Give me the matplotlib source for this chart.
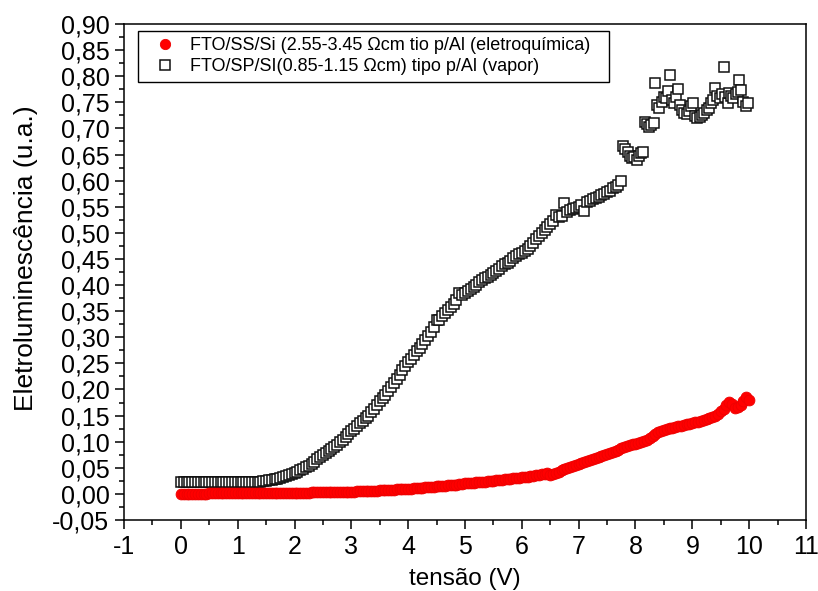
import numpy as np
import matplotlib
matplotlib.use("Agg")
import matplotlib.pyplot as plt
from matplotlib.patches import Rectangle
from matplotlib.ticker import MultipleLocator, FuncFormatter

plt.rcParams['font.family'] = ['Liberation Sans', 'DejaVu Sans']

# ---- data -------------------------------------------------------------
label_red = "FTO/SS/Si (2.55-3.45 \u03a9cm tio p/Al (eletroqu\u00edmica)"
label_black = "FTO/SP/SI(0.85-1.15 \u03a9cm) tipo p/Al (vapor)"

# electrochemical sample: voltage sweep 0 - 10 V in 0.05 V steps
red_v = np.round(np.arange(0, 10.001, 0.05), 2)
red_el = [
    0.000, 0.000, 0.000, 0.000, 0.000, 0.000, 0.000, 0.000, 0.000, 0.000,
    0.001, 0.001, 0.001, 0.001, 0.001, 0.001, 0.001, 0.001, 0.001, 0.001,
    0.001, 0.001, 0.001, 0.001, 0.001, 0.001, 0.001, 0.001, 0.001, 0.001,
    0.002, 0.002, 0.002, 0.002, 0.002, 0.002, 0.002, 0.002, 0.002, 0.002,
    0.002, 0.002, 0.002, 0.002, 0.002, 0.002, 0.003, 0.003, 0.003, 0.003,
    0.003, 0.003, 0.003, 0.003, 0.004, 0.004, 0.004, 0.004, 0.004, 0.004,
    0.004, 0.004, 0.005, 0.005, 0.005, 0.005, 0.006, 0.006, 0.006, 0.006,
    0.007, 0.007, 0.007, 0.008, 0.008, 0.008, 0.009, 0.009, 0.009, 0.010,
    0.010, 0.010, 0.011, 0.011, 0.012, 0.012, 0.013, 0.013, 0.014, 0.014,
    0.015, 0.015, 0.016, 0.016, 0.017, 0.017, 0.018, 0.018, 0.019, 0.019,
    0.020, 0.020, 0.021, 0.021, 0.022, 0.022, 0.023, 0.023, 0.024, 0.024,
    0.025, 0.026, 0.026, 0.027, 0.028, 0.028, 0.029, 0.030, 0.030, 0.031,
    0.032, 0.033, 0.033, 0.034, 0.035, 0.036, 0.037, 0.038, 0.039, 0.041,
    0.037, 0.038, 0.040, 0.042, 0.045, 0.047, 0.050, 0.052, 0.054, 0.055,
    0.057, 0.059, 0.061, 0.063, 0.065, 0.067, 0.069, 0.071, 0.073, 0.075,
    0.077, 0.079, 0.081, 0.083, 0.085, 0.087, 0.089, 0.091, 0.093, 0.095,
    0.096, 0.098, 0.100, 0.102, 0.104, 0.107, 0.111, 0.115, 0.118, 0.121,
    0.123, 0.124, 0.126, 0.127, 0.128, 0.130, 0.131, 0.132, 0.134, 0.134,
    0.135, 0.137, 0.138, 0.140, 0.142, 0.143, 0.145, 0.147, 0.150, 0.154,
    0.158, 0.162, 0.170, 0.176, 0.172, 0.164, 0.166, 0.170, 0.178, 0.186,
    0.180,
]

# vapour sample: smooth part of the sweep, 0 - 7.75 V in 0.05 V steps
black_v = np.round(np.arange(0, 7.751, 0.05), 2)
black_el = [
    0.022, 0.022, 0.022, 0.022, 0.022, 0.022, 0.022, 0.022, 0.022, 0.022,
    0.022, 0.022, 0.022, 0.022, 0.022, 0.022, 0.022, 0.022, 0.022, 0.022,
    0.022, 0.022, 0.022, 0.022, 0.022, 0.022, 0.022, 0.023, 0.023, 0.024,
    0.025, 0.026, 0.027, 0.028, 0.029, 0.030, 0.032, 0.034, 0.036, 0.038,
    0.040, 0.042, 0.045, 0.048, 0.051, 0.054, 0.058, 0.062, 0.066, 0.070,
    0.074, 0.078, 0.082, 0.086, 0.090, 0.094, 0.099, 0.104, 0.109, 0.114,
    0.120, 0.125, 0.130, 0.135, 0.140, 0.145, 0.150, 0.156, 0.163, 0.170,
    0.177, 0.183, 0.190, 0.197, 0.204, 0.212, 0.220, 0.228, 0.237, 0.245,
    0.252, 0.259, 0.266, 0.273, 0.280, 0.287, 0.295, 0.303, 0.311, 0.319,
    0.334, 0.334, 0.341, 0.347, 0.352, 0.358, 0.364, 0.371, 0.384, 0.381,
    0.385, 0.389, 0.393, 0.397, 0.401, 0.405, 0.409, 0.413, 0.416, 0.420,
    0.423, 0.427, 0.431, 0.436, 0.440, 0.443, 0.447, 0.451, 0.455, 0.459,
    0.462, 0.466, 0.470, 0.475, 0.481, 0.488, 0.494, 0.500, 0.506, 0.512,
    0.517, 0.522, 0.534, 0.530, 0.533, 0.557, 0.540, 0.543, 0.545, 0.548,
    0.550, 0.553, 0.541, 0.559, 0.561, 0.564, 0.566, 0.569, 0.572, 0.575,
    0.578, 0.581, 0.585, 0.588, 0.592, 0.600,
]

# vapour sample: noisy high-voltage part of the sweep
black_v_hi = [
    7.78, 7.82, 7.86, 7.90, 7.94, 7.98, 8.02, 8.06, 8.10, 8.13,
    8.17, 8.20, 8.24, 8.28, 8.32, 8.35, 8.38, 8.42, 8.46, 8.50,
    8.54, 8.58, 8.61, 8.65, 8.68, 8.72, 8.75, 8.78, 8.82, 8.86,
    8.90, 8.94, 8.98, 9.01, 9.05, 9.09, 9.13, 9.17, 9.21, 9.25,
    9.29, 9.33, 9.37, 9.40, 9.44, 9.48, 9.52, 9.55, 9.58, 9.62,
    9.65, 9.68, 9.72, 9.76, 9.80, 9.83, 9.86, 9.90, 9.94, 9.98,
]
black_el_hi = [
    0.667, 0.660, 0.655, 0.648, 0.643, 0.645, 0.640, 0.648, 0.652, 0.655,
    0.713, 0.708, 0.702, 0.706, 0.710, 0.787, 0.745, 0.740, 0.750, 0.760,
    0.758, 0.772, 0.803, 0.755, 0.748, 0.760, 0.776, 0.745, 0.735, 0.730,
    0.728, 0.733, 0.742, 0.748, 0.724, 0.720, 0.722, 0.726, 0.730, 0.735,
    0.740, 0.748, 0.755, 0.778, 0.762, 0.758, 0.765, 0.818, 0.760, 0.748,
    0.768, 0.762, 0.758, 0.765, 0.770, 0.793, 0.774, 0.750, 0.742, 0.748,
]

x_ticks = list(range(-1, 12))
y_ticks = [round(-0.05 + 0.05 * i, 2) for i in range(20)]

# ---- figure -----------------------------------------------------------
fig = plt.figure(figsize=(8.18, 5.91), dpi=100)
ax = fig.add_axes([0.1516, 0.1201, 0.8337, 0.8393])

ax.plot(np.concatenate([black_v, black_v_hi]),
        np.concatenate([black_el, black_el_hi]),
        linestyle='none', marker='s', markersize=7.2,
        markerfacecolor='white', markeredgecolor='#111111',
        markeredgewidth=1.1, label=label_black, zorder=3)
ax.plot(red_v, red_el, linestyle='none', marker='o', markersize=7.8,
        markerfacecolor='#ff0000', markeredgecolor='#ee0000',
        markeredgewidth=0.6, label=label_red, zorder=4)

ax.set_xlim(-1, 11)
ax.set_ylim(-0.05, 0.90)
ax.set_xticks(x_ticks)
ax.set_yticks(y_ticks)
ax.xaxis.set_minor_locator(MultipleLocator(0.5))
ax.yaxis.set_minor_locator(MultipleLocator(0.025))
ax.xaxis.set_major_formatter(FuncFormatter(lambda v, p: f"{v:.0f}"))
ax.yaxis.set_major_formatter(
    FuncFormatter(lambda v, p: f"{v:.2f}".replace('.', ',')))

ax.tick_params(which='both', direction='out', width=1.1,
               top=False, right=False, labelsize=18)
ax.tick_params(which='major', length=6.5, pad=4)
ax.tick_params(which='minor', length=3.6)
for s in ax.spines.values():
    s.set_linewidth(1.1)

ax.set_xlabel("tens\u00e3o (V)", fontsize=17.5)
ax.set_ylabel("Eletroluminesc\u00eancia (u.a.)", fontsize=19)
ax.xaxis.set_label_coords(0.5, -0.097)
ax.yaxis.set_label_coords(-0.126, 0.527)

# legend box drawn as its own rectangle, entries placed inside it
ax.add_patch(Rectangle((0.0205, 0.883), 0.6905, 0.103,
                       transform=ax.transAxes, facecolor='white',
                       edgecolor='black', linewidth=1.0, zorder=5))
handles, labels = ax.get_legend_handles_labels()
leg = ax.legend(handles[::-1], labels[::-1], loc='upper left',
                bbox_to_anchor=(0.039, 0.984), borderaxespad=0,
                fontsize=13, frameon=False, handlelength=1.0,
                handletextpad=0.9, borderpad=0.3, labelspacing=0.2,
                markerscale=0.95)
leg.set_zorder(6)

fig.savefig("out.png", dpi=100)
